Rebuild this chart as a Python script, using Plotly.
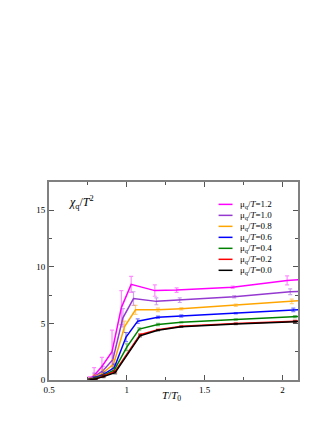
import plotly.graph_objects as go

# chi_q/T^2 vs T/T0 for several mu_q/T values
mu_labels = ['1.2', '1.0', '0.8', '0.6', '0.4', '0.2', '0.0']
colors = ['#ff00ff', '#9438d0', '#ffa500', '#0000ff', '#008000', '#ff0000', '#000000']
err_colors = ['rgba(255,0,255,0.45)', 'rgba(148,56,208,0.45)', 'rgba(255,165,0,0.5)',
              'rgba(0,0,255,0.5)', 'rgba(0,128,0,0.5)', 'rgba(255,0,0,0.5)', 'rgba(0,0,0,0.5)']

t_12 = [0.76, 0.79, 0.84, 0.905, 0.965, 1.028, 1.18, 1.32, 1.68, 2.03, 2.15]
chi_12 = [0.1, 0.4, 1.2, 2.5, 6.4, 8.45, 7.9, 7.95, 8.2, 8.8, 8.9]
err_12 = [0.2, 0.7, 0.8, 1.9, 1.5, 0.7, 0.5, 0.2, 0.1, 0.4, 0.0]

t_10 = [0.76, 0.79, 0.845, 0.91, 0.975, 1.043, 1.19, 1.34, 1.69, 2.05, 2.15]
chi_10 = [0.08, 0.3, 0.8, 1.8, 5.5, 7.2, 6.95, 7.05, 7.35, 7.8, 7.85]
err_10 = [0.1, 0.3, 0.4, 0.6, 0.8, 0.6, 0.3, 0.2, 0.1, 0.25, 0.0]

t_08 = [0.76, 0.79, 0.845, 0.915, 0.985, 1.056, 1.2, 1.35, 1.7, 2.06, 2.15]
chi_08 = [0.06, 0.25, 0.6, 1.4, 4.7, 6.2, 6.2, 6.3, 6.6, 6.95, 7.05]
err_08 = [0.1, 0.2, 0.3, 0.4, 0.5, 0.4, 0.15, 0.1, 0.1, 0.2, 0.0]

t_06 = [0.76, 0.795, 0.85, 0.92, 0.995, 1.07, 1.2, 1.35, 1.7, 2.07, 2.15]
chi_06 = [0.05, 0.2, 0.5, 1.1, 3.8, 5.2, 5.55, 5.65, 5.9, 6.2, 6.25]
err_06 = [0.05, 0.1, 0.2, 0.3, 0.4, 0.2, 0.1, 0.1, 0.05, 0.15, 0.0]

t_04 = [0.76, 0.8, 0.85, 0.92, 1.0, 1.08, 1.2, 1.35, 1.7, 2.08, 2.15]
chi_04 = [0.04, 0.15, 0.4, 0.9, 2.9, 4.5, 4.9, 5.1, 5.35, 5.6, 5.65]
err_04 = [0.05, 0.1, 0.1, 0.2, 0.3, 0.1, 0.1, 0.05, 0.05, 0.1, 0.0]

t_02 = [0.765, 0.8, 0.85, 0.925, 1.085, 1.2, 1.35, 1.7, 2.08, 2.15]
chi_02 = [0.03, 0.1, 0.35, 0.75, 4.0, 4.45, 4.75, 5.0, 5.2, 5.25]
err_02 = [0.05, 0.05, 0.1, 0.1, 0.1, 0.05, 0.05, 0.05, 0.1, 0.0]

t_00 = [0.765, 0.8, 0.85, 0.925, 1.085, 1.2, 1.35, 1.7, 2.08, 2.15]
chi_00 = [0.02, 0.1, 0.3, 0.65, 3.9, 4.4, 4.7, 4.95, 5.15, 5.2]
err_00 = [0.05, 0.05, 0.1, 0.1, 0.1, 0.05, 0.05, 0.05, 0.1, 0.0]

series_t = [t_12, t_10, t_08, t_06, t_04, t_02, t_00]
series_chi = [chi_12, chi_10, chi_08, chi_06, chi_04, chi_02, chi_00]
series_err = [err_12, err_10, err_08, err_06, err_04, err_02, err_00]

x_ticks = [0.5, 1, 1.5, 2]
x_ticktext = ['0.5', '1', '1.5', '2']
y_ticks = [0, 5, 10, 15]
y_ticktext = ['0', '5', '10', '15']

serif = 'Liberation Serif'

fig = go.Figure()
for lab, col, ecol, t, chi, err in zip(mu_labels, colors, err_colors, series_t, series_chi, series_err):
    fig.add_trace(go.Scatter(
        x=t, y=chi, mode='lines', name=f'μ<sub>q</sub>/<i>T</i>={lab}',
        line=dict(color=col, width=1.5), showlegend=False,
        error_y=dict(type='data', array=err, visible=True, color=ecol, thickness=1.2, width=2),
    ))

# hand-made legend (compact rows like the original)
for i, (lab, col) in enumerate(zip(mu_labels, colors)):
    fy = 0.887 - i * 0.0555
    fig.add_shape(type='line', xref='paper', yref='paper', x0=0.681, x1=0.737, y0=fy, y1=fy,
                  line=dict(color=col, width=1.5))
    fig.add_annotation(x=0.761, y=fy, xref='paper', yref='paper', xanchor='left', yanchor='middle',
                       text=f'μ<sub>q</sub>/<i>T</i>={lab}', showarrow=False,
                       font=dict(family=serif, size=9, color='black'))

axis_common = dict(
    showline=True, linecolor='#808080', linewidth=2, mirror='allticks',
    ticks='inside', ticklen=5, tickcolor='#555555', tickwidth=1,
    showgrid=False, zeroline=False,
    tickfont=dict(family=serif, size=9, color='black'),
)

fig.update_layout(
    width=332, height=430,
    margin=dict(l=41, r=42, t=174, b=58),
    paper_bgcolor='white', plot_bgcolor='white',
    xaxis=dict(range=[0.5, 2.1], tickvals=x_ticks, ticktext=x_ticktext,
               minor=dict(ticks='inside', ticklen=3, tick0=0.5, dtick=0.25, tickcolor='#555555', showgrid=False),
               **axis_common),
    yaxis=dict(range=[0, 17.5], tickvals=y_ticks, ticktext=y_ticktext,
               minor=dict(ticks='inside', ticklen=3, tick0=0, dtick=2.5, tickcolor='#555555', showgrid=False),
               **axis_common),
    showlegend=False,
)

fig.add_annotation(x=0.0714, y=0.898, xref='paper', yref='paper', xanchor='left', yanchor='middle',
                   text='<i>χ</i><sub>q</sub>/<i>T</i><sup>2</sup>', showarrow=False,
                   font=dict(family=serif, size=12, color='black'))
fig.add_annotation(x=0.492, y=-0.081, xref='paper', yref='paper', xanchor='center', yanchor='middle',
                   text='<i>T</i>/<i>T</i><sub>0</sub>', showarrow=False,
                   font=dict(family=serif, size=11, color='black'))

fig.write_html('out.html')
